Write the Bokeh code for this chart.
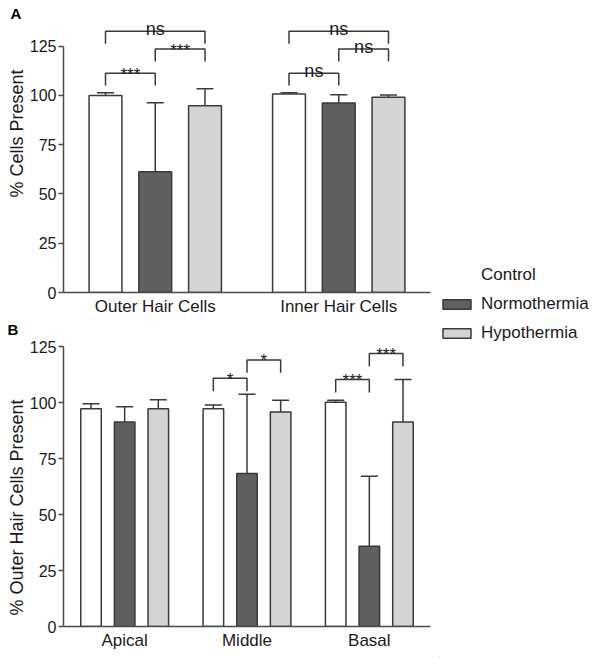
from bokeh.plotting import figure
from bokeh.models import (FactorRange, Range1d, FixedTicker, Whisker, TeeHead, Title,
                          Legend, LegendItem, ColumnDataSource)
from bokeh.transform import dodge
from bokeh.layouts import row, column
from bokeh.embed import file_html
from bokeh.resources import INLINE

# ---------------- data ----------------
series = ["Control", "Normothermia", "Hypothermia"]

a_cats = ["Outer Hair Cells", "Inner Hair Cells"]
a_control = [100.0, 100.7]
a_control_sd = [1.4, 0.7]
a_normo = [61.3, 96.1]
a_normo_sd = [35.0, 4.2]
a_hypo = [94.8, 99.1]
a_hypo_sd = [8.6, 1.1]
# (category, bar i, bar j, bracket level, label)
a_brackets = [
    ("Outer Hair Cells", 0, 1, 111.3, "***"),
    ("Outer Hair Cells", 1, 2, 123.5, "***"),
    ("Outer Hair Cells", 0, 2, 132.5, "ns"),
    ("Inner Hair Cells", 0, 1, 111.3, "ns"),
    ("Inner Hair Cells", 1, 2, 123.5, "ns"),
    ("Inner Hair Cells", 0, 2, 132.5, "ns"),
]

b_cats = ["Apical", "Middle", "Basal"]
b_control = [97.3, 97.3, 100.2]
b_control_sd = [2.2, 1.7, 0.9]
b_normo = [91.3, 68.3, 35.8]
b_normo_sd = [6.9, 35.4, 31.3]
b_hypo = [97.3, 95.8, 91.3]
b_hypo_sd = [4.0, 5.3, 19.0]
b_brackets = [
    ("Middle", 0, 1, 110.9, "*"),
    ("Middle", 1, 2, 119.1, "*"),
    ("Basal", 0, 1, 110.3, "***"),
    ("Basal", 1, 2, 122.0, "***"),
]

y_ticks = [0, 25, 50, 75, 100, 125]

# ---------------- style ----------------
FONT = "Liberation Sans"
fills = ["#ffffff", "#5f5f5f", "#d4d4d4"]
EDGE = "#3a3a3a"
AXIS = "#4a4a4a"
TXT = "#1a1a1a"


def style_axes(p, ylabel, label_offset, panel_letter, letter_offset):
    p.xgrid.visible = False
    p.ygrid.visible = False
    p.outline_line_color = None
    p.background_fill_color = "white"
    ya = p.yaxis[0]
    ya.ticker = FixedTicker(ticks=y_ticks)
    ya.bounds = (0, 125)
    ya.major_label_text_font = FONT
    ya.major_label_text_font_size = "16px"
    ya.major_label_text_color = TXT
    ya.major_label_standoff = 2
    ya.major_tick_in = 0
    ya.major_tick_out = 5
    ya.minor_tick_line_color = None
    ya.axis_line_color = AXIS
    ya.axis_line_width = 1.5
    ya.major_tick_line_color = AXIS
    ya.major_tick_line_width = 1.5
    xa = p.xaxis[0]
    xa.major_tick_line_color = None
    xa.major_tick_in = 0
    xa.major_tick_out = 0
    xa.minor_tick_line_color = None
    xa.axis_line_color = AXIS
    xa.axis_line_width = 1.5
    xa.major_label_text_font = FONT
    xa.major_label_text_font_size = "17px"
    xa.major_label_text_color = TXT
    xa.major_label_standoff = 4
    # y-axis title placed on the left side
    p.add_layout(Title(text=ylabel, align="left", offset=label_offset, standoff=0,
                       text_font=FONT, text_font_size="18px", text_font_style="normal",
                       text_color=TXT), "left")
    # panel letter
    p.title.text = panel_letter
    p.title.align = "left"
    p.title.offset = letter_offset
    p.title.standoff = 0
    p.title.vertical_align = "bottom"
    p.title.text_font = FONT
    p.title.text_font_size = "15px"
    p.title.text_font_style = "bold"
    p.title.text_color = "black"


def draw_panel(p, cats, vals, sds, offset, bar_w, brackets, drop, cap):
    for k in range(3):
        up = [v + s for v, s in zip(vals[k], sds[k])]
        src = ColumnDataSource(dict(cat=cats, val=vals[k], up=up))
        x = dodge("cat", (k - 1) * offset, range=p.x_range)
        p.vbar(x=x, top="val", bottom=0, width=bar_w, source=src,
               fill_color=fills[k], line_color=EDGE, line_width=1.5)
        w = Whisker(source=src, base=x, lower="val", upper="up", dimension="height",
                    line_color=EDGE, line_width=1.5, lower_head=None,
                    upper_head=TeeHead(size=cap, line_color=EDGE, line_width=1.5))
        p.add_layout(w)
    xs, ys, tx, ty, tt, fs, yo = [], [], [], [], [], [], []
    for cat, i, j, lvl, lab in brackets:
        g = cats.index(cat) + 0.5
        x1 = g + (i - 1) * offset
        x2 = g + (j - 1) * offset
        xs.append([x1, x1, x2, x2])
        ys.append([lvl - drop, lvl, lvl, lvl - drop])
        tx.append((x1 + x2) / 2)
        ty.append(lvl)
        tt.append(lab)
        fs.append("18px" if lab == "ns" else "17px")
        yo.append(-2 if lab == "ns" else 1)
    p.multi_line(xs=xs, ys=ys, line_color=EDGE, line_width=1.5)
    tsrc = ColumnDataSource(dict(x=tx, y=ty, t=tt, fs=fs, yo=yo))
    p.text(x="x", y="y", text="t", source=tsrc, text_align="center",
           text_baseline="alphabetic", text_font_size="fs", y_offset="yo",
           text_color=TXT, text_font={"value": FONT})


# ---------------- panel A ----------------
pA = figure(width=439, height=318, title="A",
            x_range=FactorRange(*a_cats, range_padding=0),
            y_range=Range1d(0, 137.5), output_backend="svg", toolbar_location=None,
            min_border_left=61, min_border_right=9, min_border_top=21, min_border_bottom=26)
style_axes(pA, "% Cells Present", 95, "A", -53)
draw_panel(pA, a_cats, [a_control, a_normo, a_hypo], [a_control_sd, a_normo_sd, a_hypo_sd],
           0.2711, 0.179, a_brackets, 6.3, 17)

# ---------------- panel B ----------------
pB = figure(width=439, height=340, title="B",
            x_range=FactorRange(*b_cats, range_padding=0),
            y_range=Range1d(0, 129.1), output_backend="svg", toolbar_location=None,
            min_border_left=63, min_border_right=0, min_border_top=18, min_border_bottom=32)
style_axes(pB, "% Outer Hair Cells Present", 11, "B", -56)
draw_panel(pB, b_cats, [b_control, b_normo, b_hypo], [b_control_sd, b_normo_sd, b_hypo_sd],
           0.275, 0.168, b_brackets, 5.8, 17)

# ---------------- legend ----------------
pL = figure(width=163, height=658, x_range=Range1d(0, 1), y_range=Range1d(0, 1),
            output_backend="svg", toolbar_location=None, min_border=0,
            x_axis_type=None, y_axis_type=None)
pL.outline_line_color = None
pL.xgrid.visible = False
pL.ygrid.visible = False
items = []
for k, name in enumerate(series):
    # placeholder glyph far outside the visible range, used only for the legend swatch
    r = pL.vbar(x=[-100.0], top=[-100.0], bottom=-101.0, width=0.5, fill_color=fills[k],
                line_color=None if k == 0 else EDGE, line_width=1.5)
    items.append(LegendItem(label=name, renderers=[r]))
leg = Legend(items=items, location=(0, 315), glyph_width=35, glyph_height=12,
             label_height=20, spacing=9, padding=0, margin=0, label_standoff=7,
             border_line_color=None, background_fill_alpha=0,
             label_text_font=FONT, label_text_font_size="17px", label_text_color=TXT)
pL.add_layout(leg)

layout = row(column(pA, pB), pL)
open("out.html", "w").write(file_html(layout, INLINE))
